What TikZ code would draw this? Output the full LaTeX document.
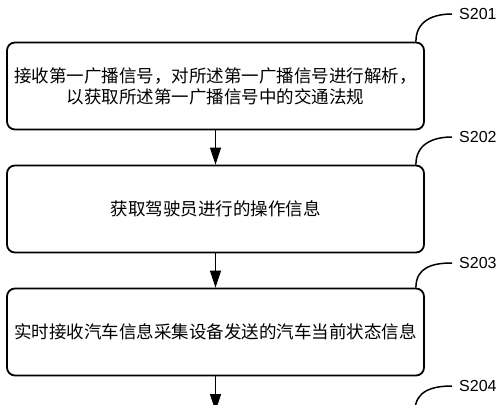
\documentclass[tikz,border=0pt]{standalone}
\usepackage{fontspec}
\usepackage{tikz}
\usetikzlibrary{arrows.meta,positioning,calc}
\setsansfont{Liberation Sans}
\newfontfamily\cjk{Noto Sans CJK SC}
\tikzset{
  stepcard/.style={
    draw=black, line width=1.8pt, rounded corners=8pt,
    minimum width=417pt, minimum height=87pt, inner sep=0pt,
    align=center, font=\cjk\fontsize{17.5}{21}\selectfont
  },
  steplabel/.style={
    anchor=west, inner xsep=7pt, inner ysep=0pt,
    font=\sffamily\fontsize{16}{18}\selectfont
  },
  flowarrow/.style={-{Triangle[width=11pt,length=17pt]}, line width=1.3pt},
  leadline/.style={line width=1.5pt}
}

\begin{document}
\begin{tikzpicture}[x=1pt,y=-1pt]
  \clip (0,0) rectangle (500,404);
  % step boxes
  \node[stepcard] (recv) at (215.5,86)
    {接收第一广播信号，对所述第一广播信号进行解析，\\以获取所述第一广播信号中的交通法规};
  \node[stepcard] (oper) at (215.5,209) {获取驾驶员进行的操作信息};
  \node[stepcard] (state) at (215.5,332) {实时接收汽车信息采集设备发送的汽车当前状态信息};
  \coordinate (next) at (215.5,411);
  \coordinate (nextfoot) at (415,411);
  % arrows
  \draw[flowarrow] (recv) -- (oper);
  \draw[flowarrow] (oper) -- (state);
  \draw[flowarrow] (state) -- (next);
  % step labels
  \node[steplabel] (s201) at (452,14) {S201};
  \node[steplabel] (s202) at (452,137) {S202};
  \node[steplabel] (s203) at (452,263) {S203};
  \node[steplabel] (s204) at (452,386) {S204};
  \draw[leadline] ($(recv.north east)+(-9,0)$) .. controls +(0,-20) and +(-20,0) .. (s201.west);
  \draw[leadline] ($(oper.north east)+(-9,0)$) .. controls +(0,-20) and +(-20,0) .. (s202.west);
  \draw[leadline] ($(state.north east)+(-9,0)$) .. controls +(0,-20) and +(-20,0) .. (s203.west);
  \draw[leadline] (nextfoot) .. controls +(0,-20) and +(-20,0) .. (s204.west);
\end{tikzpicture}
\end{document}
